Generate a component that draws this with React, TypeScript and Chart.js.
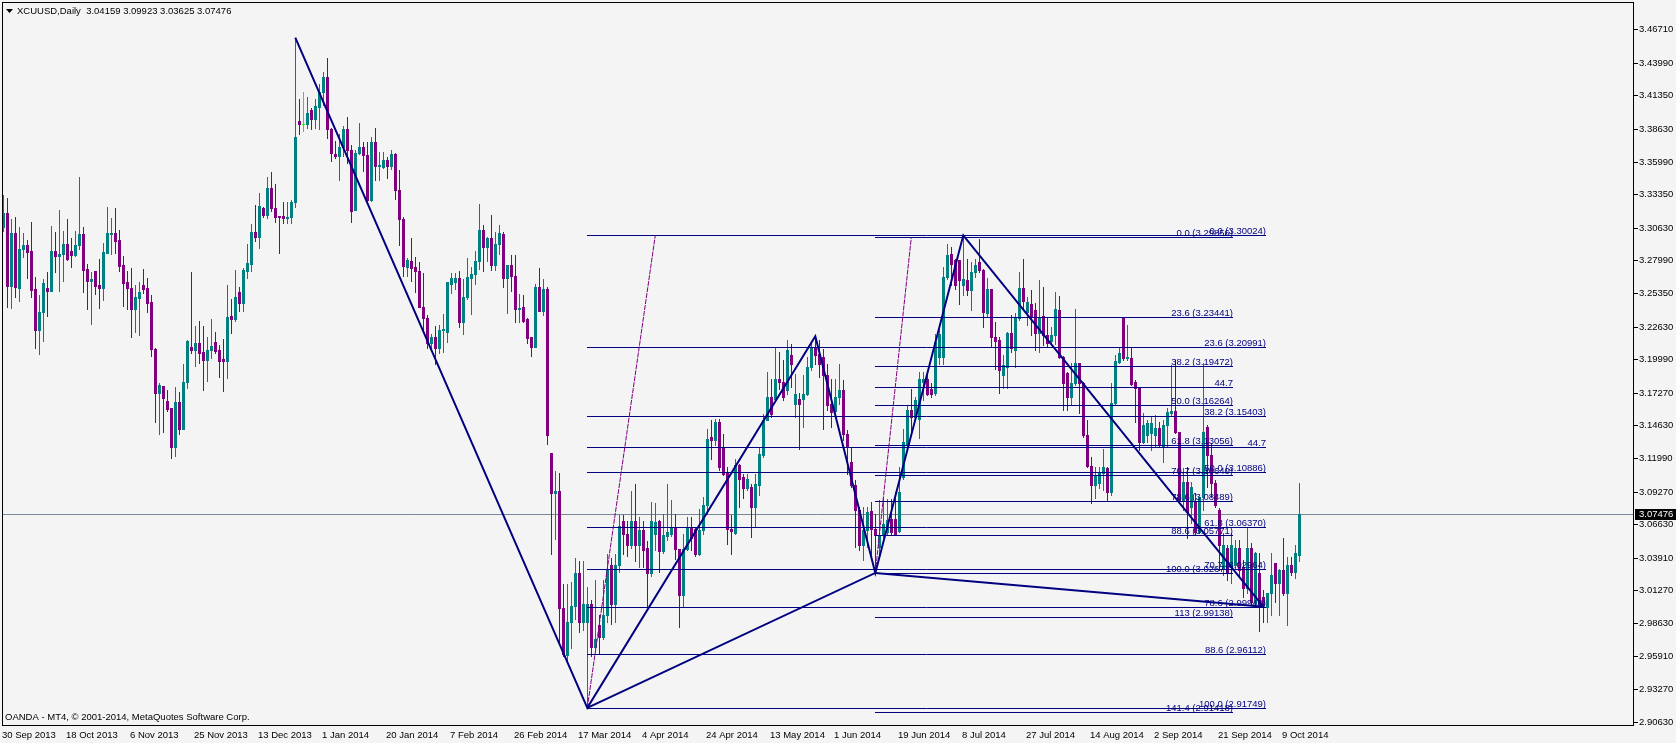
import React, { useEffect, useRef } from "react";
import { Chart, registerables } from "chart.js";

Chart.register(...registerables);

const titleText = "XCUUSD,Daily  3.04159 3.09923 3.03625 3.07476";
const copyrightText = "OANDA - MT4, \u00A9 2001-2014, MetaQuotes Software Corp.";

const opens = [
  3.3073, 3.3181, 3.2595, 3.3019, 3.2578, 3.2892, 3.2924, 3.2875, 3.2568, 3.2236,
  3.2379, 3.2573, 3.2551, 3.2875, 3.2838, 3.2848, 3.2932, 3.2875, 3.2843, 3.2924,
  3.3013, 3.2730, 3.2632, 3.2713, 3.2600, 3.2578, 3.2862, 3.3010, 3.3019, 3.2965,
  3.2762, 3.2622, 3.2578, 3.2406, 3.2497, 3.2600, 3.2573, 3.2460, 3.2082, 3.1723,
  3.1785, 3.1660, 3.1601, 3.1291, 3.1650, 3.1434, 3.1812, 3.2095, 3.2074, 3.2128,
  3.2055, 3.1993, 3.2074, 3.2141, 3.2074, 3.2001, 3.1984, 3.2349, 3.2325, 3.2546,
  3.2457, 3.2716, 3.2770, 3.3027, 3.2992, 3.3221, 3.3167, 3.3383, 3.3226, 3.3159,
  3.3159, 3.3140, 3.3154, 3.3275, 3.3928, 3.3903, 3.3901, 3.4018, 3.3945, 3.4045,
  3.4166, 3.4282, 3.3864, 3.3658, 3.3644, 3.3714, 3.3862, 3.3697, 3.3210, 3.3672,
  3.3714, 3.3651, 3.3291, 3.3757, 3.3566, 3.3556, 3.3609, 3.3563, 3.3661, 3.3372,
  3.3133, 3.2745, 3.2798, 3.2745, 3.2710, 3.2421, 3.2333, 3.2129, 3.2182, 3.2087,
  3.2234, 3.2217, 3.2608, 3.2622, 3.2657, 3.2298, 3.2499, 3.2657, 3.2686, 3.2798,
  3.3045, 3.2911, 3.2981, 3.2763, 3.2932, 3.3010, 3.2657, 3.2763, 3.2675, 3.2404,
  3.2418, 3.2323, 3.2182, 3.2101, 3.2580, 3.2393, 3.2569, 3.1241, 3.0913, 3.0931,
  2.9980, 2.9599, 2.9874, 2.9997, 3.0269, 2.9874, 2.9874, 3.0015, 2.9670, 2.9846,
  2.9751, 2.9927, 3.0332, 3.0015, 3.0332, 3.0685, 3.0579, 3.0491, 3.0685, 3.0491,
  3.0614, 3.0473, 3.0269, 3.0586, 3.0689, 3.0446, 3.0564, 3.0586, 3.0635, 3.0464,
  3.0087, 3.0464, 3.0640, 3.0627, 3.0424, 3.0613, 3.0816, 3.1369, 3.1347, 3.1491,
  3.1288, 3.1086, 3.0627, 3.0591, 3.1140, 3.1045, 3.0959, 3.0964, 3.0802, 3.0978,
  3.1221, 3.1504, 3.1693, 3.1680, 3.1842, 3.1815, 3.1747, 3.2031, 3.1634, 3.1680,
  3.1680, 3.1720, 3.1936, 3.2098, 3.2044, 3.2017, 3.1869, 3.1639, 3.1580, 3.1693,
  3.1747, 3.1396, 3.1166, 3.0977, 3.0775, 3.0492, 3.0613, 3.0770, 3.0627, 3.0478,
  3.0573, 3.0600, 3.0708, 3.0708, 3.0608, 3.1045, 3.1302, 3.1585, 3.1531, 3.1518,
  3.1815, 3.1842, 3.1761, 3.1725, 3.2017, 3.2017, 3.2665, 3.2854, 3.2800, 3.2800,
  3.2600, 3.2638, 3.2557, 3.2706, 3.2787, 3.2719, 3.2370, 3.2564, 3.2176, 3.2154,
  3.1871, 3.1938, 3.2208, 3.2073, 3.2330, 3.2573, 3.2384, 3.2446, 3.2397, 3.2208,
  3.2348, 3.2194, 3.2149, 3.2194, 3.2397, 3.2019, 3.1884, 3.1695, 3.1803, 3.1965,
  3.1803, 3.1385, 3.1133, 3.0980, 3.0993, 3.1074, 3.1115, 3.0926, 3.1646, 3.1979,
  3.2330, 3.2006, 3.2006, 3.1817, 3.1763, 3.1331, 3.1385, 3.1398, 3.1385, 3.1439,
  3.1290, 3.1466, 3.1565, 3.1582, 3.1412, 3.0858, 3.1007, 3.0804, 3.0845, 3.0602,
  3.0885, 3.1452, 3.1223, 3.0993, 3.0777, 3.0305, 3.0467, 3.0318, 3.0332, 3.0467,
  3.0318, 3.0143, 3.0467, 3.0026, 3.0264, 3.0075, 2.9994, 3.0102, 3.0345, 3.0183,
  3.0291, 3.0107, 3.0332, 3.0278, 3.04159,
];

const highs = [
  3.3329, 3.3302, 3.3135, 3.3148, 3.3070, 3.3019, 3.2965, 3.3110, 3.2665, 3.2519,
  3.2649, 3.2703, 3.3078, 3.3032, 3.3205, 3.3037, 3.3135, 3.2978, 3.3040, 3.3472,
  3.3067, 3.2770, 3.2708, 3.2713, 3.2808, 3.2938, 3.3235, 3.3140, 3.3221, 3.3046,
  3.2835, 3.2713, 3.2735, 3.2600, 3.2627, 3.2730, 3.2654, 3.2519, 3.2092, 3.1804,
  3.1785, 3.1750, 3.1601, 3.1777, 3.1731, 3.1957, 3.2154, 3.2703, 3.2271, 3.2308,
  3.2271, 3.2182, 3.2325, 3.2217, 3.2114, 3.2160, 3.2600, 3.2487, 3.2722, 3.2587,
  3.2735, 3.2930, 3.3094, 3.3248, 3.3348, 3.3235, 3.3472, 3.3518, 3.3415, 3.3159,
  3.3275, 3.3275, 3.3286, 3.4603, 3.4107, 3.4161, 3.4126, 3.4031, 3.4107, 3.4225,
  3.4323, 3.4441, 3.3874, 3.3767, 3.3820, 3.3890, 3.3961, 3.3732, 3.3697, 3.3908,
  3.3760, 3.3757, 3.3802, 3.3873, 3.3679, 3.3679, 3.3637, 3.3697, 3.3672, 3.3531,
  3.3151, 3.2816, 3.2982, 3.2823, 3.2788, 3.2693, 3.2358, 3.2199, 3.2270, 3.2277,
  3.2368, 3.2622, 3.2693, 3.2700, 3.2717, 3.2650, 3.2816, 3.2745, 3.2876, 3.3256,
  3.3087, 3.2992, 3.3168, 3.3027, 3.3087, 3.3027, 3.2763, 3.2841, 3.2841, 3.2524,
  3.2517, 3.2333, 3.2182, 3.2605, 3.2735, 3.2650, 3.2587, 3.1241, 3.1090, 3.1079,
  3.0174, 3.0174, 3.0191, 3.0385, 3.0367, 3.0367, 3.0155, 3.0050, 3.0209, 2.9927,
  3.0209, 3.0420, 3.0385, 3.0420, 3.0737, 3.0737, 3.0685, 3.0931, 3.0984, 3.0720,
  3.0685, 3.0526, 3.0843, 3.0834, 3.0694, 3.0748, 3.0991, 3.0856, 3.0743, 3.0464,
  3.0586, 3.0721, 3.0721, 3.0640, 3.0789, 3.0883, 3.1437, 3.1504, 3.1518, 3.1518,
  3.1396, 3.1126, 3.0735, 3.1194, 3.1153, 3.1072, 3.1072, 3.0991, 3.1072, 3.1288,
  3.1558, 3.1896, 3.1842, 3.2098, 3.2058, 3.1990, 3.2152, 3.2125, 3.1882, 3.1725,
  3.1869, 3.2017, 3.2147, 3.2184, 3.2157, 3.2085, 3.1963, 3.1842, 3.1842, 3.1963,
  3.1828, 3.1423, 3.1288, 3.1018, 3.0802, 3.0802, 3.0802, 3.0843, 3.0748, 3.0856,
  3.0883, 3.0870, 3.0870, 3.0924, 3.1126, 3.1437, 3.1626, 3.1761, 3.1693, 3.1896,
  3.1896, 3.1869, 3.1806, 3.2206, 3.2287, 3.2746, 3.2935, 3.2908, 3.2814, 3.2800,
  3.3002, 3.2814, 3.2787, 3.2814, 3.2976, 3.2733, 3.2654, 3.2564, 3.2302, 3.2181,
  3.2033, 3.2221, 3.2357, 3.2370, 3.2708, 3.2807, 3.2505, 3.2559, 3.2451, 3.2640,
  3.2586, 3.2343, 3.2262, 3.2546, 3.2510, 3.2024, 3.1898, 3.1965, 3.2402, 3.1965,
  3.1817, 3.1506, 3.1204, 3.1128, 3.1128, 3.1268, 3.1128, 3.1803, 3.2033, 3.2100,
  3.2330, 3.2276, 3.2100, 3.1830, 3.1776, 3.1565, 3.1506, 3.1533, 3.1546, 3.1493,
  3.1506, 3.1601, 3.1952, 3.1992, 3.1412, 3.1115, 3.1128, 3.1007, 3.0912, 3.0885,
  3.1965, 3.1466, 3.1317, 3.1020, 3.0791, 3.0588, 3.0494, 3.0588, 3.0534, 3.0534,
  3.0372, 3.0629, 3.0512, 3.0440, 3.0426, 3.0129, 3.0102, 3.0426, 3.0345, 3.0296,
  3.0548, 3.0399, 3.0399, 3.0494, 3.09923,
];

const lows = [
  3.3037, 3.2424, 3.2416, 3.2506, 3.2470, 3.2829, 3.2654, 3.2506, 3.2092, 3.2041,
  3.2149, 3.2352, 3.2551, 3.2708, 3.2551, 3.2632, 3.2803, 3.2749, 3.2838, 3.2892,
  3.2546, 3.2406, 3.2284, 3.2527, 3.2416, 3.2479, 3.2862, 3.2848, 3.2856, 3.2713,
  3.2433, 3.2406, 3.2182, 3.2222, 3.2195, 3.2533, 3.2384, 3.2025, 3.1493, 3.1390,
  3.1407, 3.1579, 3.1202, 3.1218, 3.1390, 3.1434, 3.1763, 3.2052, 3.1947, 3.1966,
  3.1750, 3.1822, 3.2006, 3.2046, 3.1858, 3.1744, 3.1849, 3.2209, 3.2308, 3.2392,
  3.2389, 3.2654, 3.2713, 3.2956, 3.2902, 3.3154, 3.3145, 3.3202, 3.3113, 3.2862,
  3.3105, 3.3105, 3.3105, 3.3235, 3.3820, 3.3847, 3.3874, 3.3864, 3.3874, 3.3864,
  3.4058, 3.3793, 3.3607, 3.3626, 3.3450, 3.3644, 3.3591, 3.3108, 3.3210, 3.3661,
  3.3521, 3.3274, 3.3284, 3.3450, 3.3450, 3.3545, 3.3468, 3.3538, 3.3299, 3.2922,
  3.2675, 3.2675, 3.2629, 3.2545, 3.2421, 3.2228, 3.2087, 3.2087, 3.1960, 3.2051,
  3.2058, 3.2136, 3.2534, 3.2569, 3.2263, 3.2199, 3.2488, 3.2368, 3.2604, 3.2728,
  3.2710, 3.2791, 3.2721, 3.2721, 3.2851, 3.2580, 3.2376, 3.2552, 3.2298, 3.2298,
  3.2298, 3.2129, 3.2023, 3.2094, 3.2393, 3.2358, 3.1312, 3.0420, 3.0544, 2.9691,
  2.9592, 2.9539, 2.9663, 2.9892, 2.9786, 2.9804, 2.9175, 2.9592, 2.9645, 2.9610,
  2.9733, 2.9874, 2.9857, 2.9874, 3.0279, 3.0420, 3.0403, 3.0473, 3.0367, 3.0314,
  3.0314, 2.9997, 3.0244, 3.0451, 3.0276, 3.0429, 3.0532, 3.0564, 3.0384, 2.9830,
  2.9997, 3.0451, 3.0451, 3.0402, 3.0411, 3.0586, 3.0748, 3.1194, 3.1302, 3.1099,
  3.1059, 3.0505, 3.0419, 3.0586, 3.0802, 3.0878, 3.0937, 3.0559, 3.0640, 3.0897,
  3.1207, 3.1504, 3.1531, 3.1666, 3.1761, 3.1666, 3.1720, 3.1774, 3.1531, 3.1275,
  3.1450, 3.1706, 3.1909, 3.1963, 3.1855, 3.1437, 3.1585, 3.1450, 3.1558, 3.1639,
  3.1342, 3.1072, 3.0964, 3.0478, 3.0451, 3.0375, 3.0478, 3.0424, 3.0268, 3.0424,
  3.0559, 3.0586, 3.0586, 3.0581, 3.0600, 3.1032, 3.1288, 3.1396, 3.1504, 3.1364,
  3.1666, 3.1706, 3.1693, 3.1706, 3.1963, 3.1963, 3.2651, 3.2598, 3.2571, 3.2449,
  3.2517, 3.2517, 3.2395, 3.2665, 3.2706, 3.2260, 3.2343, 3.2100, 3.1916, 3.1722,
  3.1763, 3.1763, 3.2060, 3.1938, 3.2316, 3.2402, 3.2276, 3.2194, 3.2073, 3.2060,
  3.2114, 3.2100, 3.2122, 3.2122, 3.2006, 3.1587, 3.1587, 3.1628, 3.1790, 3.1560,
  3.1371, 3.1128, 3.0831, 3.0872, 3.0953, 3.0939, 3.0853, 3.0899, 3.1636, 3.1965,
  3.1992, 3.1992, 3.1790, 3.1493, 3.1263, 3.1317, 3.1331, 3.1263, 3.1290, 3.1290,
  3.1169, 3.1290, 3.1547, 3.1398, 3.0831, 3.0777, 3.0548, 3.0669, 3.0575, 3.0588,
  3.0777, 3.0966, 3.0885, 3.0804, 3.0291, 3.0251, 3.0210, 3.0183, 3.0305, 3.0251,
  3.0075, 3.0102, 3.0008, 2.9994, 2.9800, 2.9873, 2.9873, 2.9927, 3.0035, 2.9927,
  3.0089, 2.9846, 3.0251, 3.0224, 3.03625,
];

const closes = [
  3.3181, 3.2595, 3.3019, 3.2587, 3.2892, 3.2924, 3.2870, 3.2560, 3.2236, 3.2384,
  3.2614, 3.2551, 3.2875, 3.2838, 3.2848, 3.2932, 3.2811, 3.2843, 3.2924, 3.3013,
  3.2721, 3.2632, 3.2649, 3.2595, 3.2578, 3.2865, 3.3019, 3.3021, 3.2956, 3.2757,
  3.2619, 3.2578, 3.2406, 3.2503, 3.2546, 3.2568, 3.2457, 3.2079, 3.1723, 3.1790,
  3.1682, 3.1596, 3.1291, 3.1650, 3.1434, 3.1812, 3.2146, 3.2074, 3.2128, 3.2052,
  3.1993, 3.2074, 3.2103, 3.2068, 3.1984, 3.1984, 3.2343, 3.2325, 3.2506, 3.2457,
  3.2722, 3.2776, 3.3027, 3.2992, 3.3240, 3.3167, 3.3383, 3.3226, 3.3154, 3.3151,
  3.3145, 3.3154, 3.3270, 3.3796, 3.3907, 3.3903, 3.3990, 3.3945, 3.4050, 3.4166,
  3.4282, 3.3861, 3.3667, 3.3644, 3.3714, 3.3862, 3.3697, 3.3203, 3.3672, 3.3714,
  3.3651, 3.3291, 3.3757, 3.3566, 3.3573, 3.3609, 3.3563, 3.3661, 3.3372, 3.3133,
  3.2756, 3.2805, 3.2735, 3.2710, 3.2421, 3.2333, 3.2129, 3.2182, 3.2087, 3.2234,
  3.2241, 3.2622, 3.2657, 3.2657, 3.2298, 3.2499, 3.2664, 3.2686, 3.2798, 3.3045,
  3.2911, 3.2981, 3.2763, 3.2932, 3.3017, 3.2657, 3.2763, 3.2675, 3.2404, 3.2411,
  3.2312, 3.2171, 3.2101, 3.2587, 3.2393, 3.2569, 3.1382, 3.0913, 3.0931, 2.9980,
  2.9610, 2.9874, 2.9997, 3.0269, 2.9874, 3.0015, 3.0015, 2.9670, 2.9733, 2.9751,
  2.9927, 3.0297, 3.0015, 3.0332, 3.0649, 3.0579, 3.0491, 3.0685, 3.0491, 3.0614,
  3.0455, 3.0269, 3.0685, 3.0681, 3.0446, 3.0573, 3.0600, 3.0635, 3.0464, 3.0087,
  3.0464, 3.0640, 3.0554, 3.0424, 3.0613, 3.0816, 3.1356, 3.1347, 3.1491, 3.1126,
  3.1067, 3.0627, 3.0608, 3.1140, 3.1032, 3.0959, 3.1032, 3.0802, 3.0991, 3.1234,
  3.1504, 3.1693, 3.1558, 3.1842, 3.1815, 3.1693, 3.2076, 3.1963, 3.1720, 3.1639,
  3.1720, 3.1936, 3.2098, 3.2031, 3.1963, 3.1869, 3.1626, 3.1572, 3.1693, 3.1752,
  3.1396, 3.1288, 3.0977, 3.0775, 3.0492, 3.0613, 3.0762, 3.0627, 3.0573, 3.0573,
  3.0667, 3.0694, 3.0600, 3.0586, 3.0924, 3.1329, 3.1585, 3.1531, 3.1666, 3.1842,
  3.1842, 3.1720, 3.1715, 3.2139, 3.2206, 3.2665, 3.2841, 3.2773, 3.2598, 3.2638,
  3.2650, 3.2557, 3.2706, 3.2760, 3.2719, 3.2381, 3.2564, 3.2176, 3.2149, 3.1911,
  3.1952, 3.2208, 3.2086, 3.2330, 3.2573, 3.2473, 3.2465, 3.2343, 3.2208, 3.2343,
  3.2194, 3.2127, 3.2194, 3.2402, 3.2019, 3.1803, 3.1695, 3.1803, 3.1965, 3.1803,
  3.1385, 3.1133, 3.0980, 3.1061, 3.1088, 3.1128, 3.0926, 3.1646, 3.1987, 3.2051,
  3.2006, 3.2019, 3.1798, 3.1763, 3.1331, 3.1466, 3.1479, 3.1479, 3.1439, 3.1304,
  3.1466, 3.1574, 3.1582, 3.1412, 3.0858, 3.1007, 3.0764, 3.0966, 3.0602, 3.0885,
  3.1412, 3.1223, 3.0993, 3.0818, 3.0494, 3.0494, 3.0264, 3.0494, 3.0467, 3.0291,
  3.0143, 3.0467, 3.0035, 3.0426, 3.0008, 3.0008, 3.0102, 3.0251, 3.0183, 3.0291,
  3.0107, 3.0332, 3.0278, 3.0426, 3.07476,
];

const dateTickBars = [0, 16, 32, 48, 64, 80, 96, 112, 128, 144, 160, 176, 192, 208, 224, 240, 256, 272, 288, 304, 320];
const dateTickLabels = [
  "30 Sep 2013", "18 Oct 2013", "6 Nov 2013", "25 Nov 2013", "13 Dec 2013", "1 Jan 2014",
  "20 Jan 2014", "7 Feb 2014", "26 Feb 2014", "17 Mar 2014", "4 Apr 2014", "24 Apr 2014",
  "13 May 2014", "1 Jun 2014", "19 Jun 2014", "8 Jul 2014", "27 Jul 2014", "14 Aug 2014",
  "2 Sep 2014", "21 Sep 2014", "9 Oct 2014",
];

const priceTicks = [
  3.4671, 3.4399, 3.4135, 3.3863, 3.3599, 3.3335, 3.3063, 3.2799, 3.2535, 3.2263, 3.1999,
  3.1727, 3.1463, 3.1199, 3.0927, 3.0663, 3.0391, 3.0127, 2.9863, 2.9591, 2.9327, 2.9063,
];
const lastPrice = 3.07476;

const zigzagBars = [73, 146, 203, 218, 240, 315];
const zigzagPrices = [3.4603, 2.91749, 3.2184, 3.02677, 3.30024, 2.9994];
const xbdBars = [146, 218, 315];
const xbdPrices = [2.91749, 3.02677, 2.9994];

const fibOneValues = [3.29856, 3.23441, 3.19472, 3.17707, 3.16264, 3.13056, 3.1064, 3.08489, 3.05771, 3.02677, 2.99138, 2.91418];
const fibOneLabels = [
  "0.0 (3.29856)", "23.6 (3.23441)", "38.2 (3.19472)", "44.7", "50.0 (3.16264)", "61.8 (3.13056)",
  "70.7 (3.10640)", "78.6 (3.08489)", "88.6 (3.05771)", "100.0 (3.02677)", "113 (2.99138)", "141.4 (2.91418)",
];
const fibOneSpan = [218, 307.5];
const fibOneDiagBars = [218, 227];
const fibOneDiagPrices = [3.02677, 3.29856];

const fibTwoValues = [3.30024, 3.20991, 3.15403, 3.12915, 3.10886, 3.0637, 3.02964, 2.9994, 2.96112, 2.91749];
const fibTwoLabels = [
  "0.0 (3.30024)", "23.6 (3.20991)", "38.2 (3.15403)", "44.7", "50.0 (3.10886)", "61.8 (3.06370)",
  "70.7 (3.02964)", "78.6 (2.99940)", "88.6 (2.96112)", "100.0 (2.91749)",
];
const fibTwoSpan = [146, 315.6];
const fibTwoDiagBars = [146, 163];
const fibTwoDiagPrices = [2.91749, 3.30024];

const BG = "#f4f4f4";
const BULL = "#008080";
const BEAR = "#800080";
const DOJI = "#00ff00";
const NAVY = "#000080";
const FONT = '9.5px "Liberation Sans", Arial, sans-serif';

const toPts = (bars: number[], prices: number[]) => bars.map((b, i) => ({ x: b, y: prices[i] }));

function drawFibLines(ctx: CanvasRenderingContext2D, x: any, y: any, values: number[], span: number[]) {
  const x0 = Math.round(x.getPixelForValue(span[0]));
  const x1 = Math.round(x.getPixelForValue(span[1]));
  ctx.strokeStyle = NAVY;
  ctx.lineWidth = 1;
  for (const v of values) {
    const py = Math.round(y.getPixelForValue(v)) + 0.5;
    ctx.beginPath();
    ctx.moveTo(x0, py);
    ctx.lineTo(x1, py);
    ctx.stroke();
  }
}

function drawFibLabels(ctx: CanvasRenderingContext2D, x: any, y: any, values: number[], labels: string[], span: number[]) {
  const x1 = Math.round(x.getPixelForValue(span[1]));
  ctx.fillStyle = NAVY;
  ctx.font = FONT;
  ctx.textAlign = "right";
  ctx.textBaseline = "alphabetic";
  values.forEach((v, i) => {
    const py = Math.round(y.getPixelForValue(v));
    ctx.fillText(labels[i], x1, py - 1);
  });
}

const mt4Plugin = {
  id: "mt4Plugin",
  beforeDraw(chart: any) {
    const ctx = chart.ctx;
    ctx.save();
    ctx.fillStyle = BG;
    ctx.fillRect(0, 0, chart.width, chart.height);
    ctx.restore();
  },
  beforeDatasetsDraw(chart: any) {
    const { ctx, chartArea: a, scales } = chart;
    const x = scales.x;
    const y = scales.y;
    ctx.save();
    ctx.beginPath();
    ctx.rect(a.left, a.top, a.right - a.left, a.bottom - a.top);
    ctx.clip();

    const lp = Math.round(y.getPixelForValue(lastPrice)) + 0.5;
    ctx.strokeStyle = "#778899";
    ctx.lineWidth = 1;
    ctx.beginPath();
    ctx.moveTo(a.left, lp);
    ctx.lineTo(a.right, lp);
    ctx.stroke();

    for (let i = 0; i < opens.length; i++) {
      const cx = Math.round(x.getPixelForValue(i));
      const yo = Math.round(y.getPixelForValue(opens[i]));
      const yc = Math.round(y.getPixelForValue(closes[i]));
      const yh = Math.round(y.getPixelForValue(highs[i]));
      const yl = Math.round(y.getPixelForValue(lows[i]));
      ctx.fillStyle = closes[i] > opens[i] ? BULL : closes[i] < opens[i] ? BEAR : DOJI;
      ctx.fillRect(cx, yh, 1, yl - yh + 1);
      const top = Math.min(yo, yc);
      const bot = Math.max(yo, yc);
      ctx.fillRect(cx - 1, top, 3, Math.max(1, bot - top + 1));
    }

    drawFibLines(ctx, x, y, fibTwoValues, fibTwoSpan);
    drawFibLines(ctx, x, y, fibOneValues, fibOneSpan);
    ctx.restore();
  },
  afterDatasetsDraw(chart: any) {
    const { ctx, chartArea: a, scales } = chart;
    const x = scales.x;
    const y = scales.y;
    ctx.save();
    drawFibLabels(ctx, x, y, fibTwoValues, fibTwoLabels, fibTwoSpan);
    drawFibLabels(ctx, x, y, fibOneValues, fibOneLabels, fibOneSpan);

    ctx.strokeStyle = "#000";
    ctx.lineWidth = 1;
    ctx.strokeRect(a.left + 0.5, a.top - 0.5, a.right - a.left, a.bottom - a.top + 1);

    ctx.font = FONT;
    ctx.fillStyle = "#000";
    ctx.textAlign = "left";
    ctx.textBaseline = "middle";
    for (const t of priceTicks) {
      const py = Math.round(y.getPixelForValue(t));
      ctx.fillRect(a.right + 1, py, 4, 1);
      ctx.fillText(t.toFixed(5), a.right + 6, py + 0.5);
    }
    const lp = Math.round(y.getPixelForValue(lastPrice));
    ctx.fillStyle = "#000";
    ctx.fillRect(a.right + 2, lp - 5, chart.width - a.right - 2, 11);
    ctx.fillStyle = "#fff";
    ctx.fillText(lastPrice.toFixed(5), a.right + 6, lp + 0.5);

    ctx.fillStyle = "#000";
    ctx.textAlign = "left";
    ctx.textBaseline = "middle";
    dateTickBars.forEach((b, i) => {
      const px = Math.round(x.getPixelForValue(b));
      ctx.fillText(dateTickLabels[i], px - 1, a.bottom + 10);
    });

    ctx.beginPath();
    ctx.moveTo(6, 9);
    ctx.lineTo(13, 9);
    ctx.lineTo(9.5, 13);
    ctx.closePath();
    ctx.fill();
    ctx.fillText(titleText, 17, 11.5);

    ctx.fillText(copyrightText, 5, 717);
    ctx.restore();
  },
};

export default function App() {
  const ref = useRef<HTMLCanvasElement>(null);
  useEffect(() => {
    document.body.style.margin = "0";
    document.body.style.background = BG;
    const canvas = ref.current;
    if (!canvas) return;
    const chart = new Chart(canvas, {
      type: "line",
      data: {
        datasets: [
          { data: toPts(zigzagBars, zigzagPrices), borderColor: NAVY, borderWidth: 2, pointRadius: 0 },
          { data: toPts(xbdBars, xbdPrices), borderColor: NAVY, borderWidth: 2, pointRadius: 0 },
          { data: toPts(fibOneDiagBars, fibOneDiagPrices), borderColor: BEAR, borderWidth: 1, borderDash: [5, 1], pointRadius: 0 },
          { data: toPts(fibTwoDiagBars, fibTwoDiagPrices), borderColor: BEAR, borderWidth: 1, borderDash: [5, 1], pointRadius: 0 },
        ],
      },
      options: {
        animation: false,
        responsive: false,
        maintainAspectRatio: false,
        devicePixelRatio: 1,
        layout: { padding: { left: 2, top: 3, right: 43, bottom: 18 } },
        scales: {
          x: { type: "linear", min: -0.325, max: 407.425, display: false },
          y: { type: "linear", min: 2.90359, max: 3.4884, display: false },
        },
        plugins: { legend: { display: false }, tooltip: { enabled: false } },
        elements: { line: { tension: 0 } },
        events: [],
      },
      plugins: [mt4Plugin],
    } as any);
    return () => chart.destroy();
  }, []);
  return (
    <div style={{ width: 1676, height: 743 }}>
      <canvas ref={ref} width={1676} height={743} style={{ display: "block", width: 1676, height: 743 }} />
    </div>
  );
}
